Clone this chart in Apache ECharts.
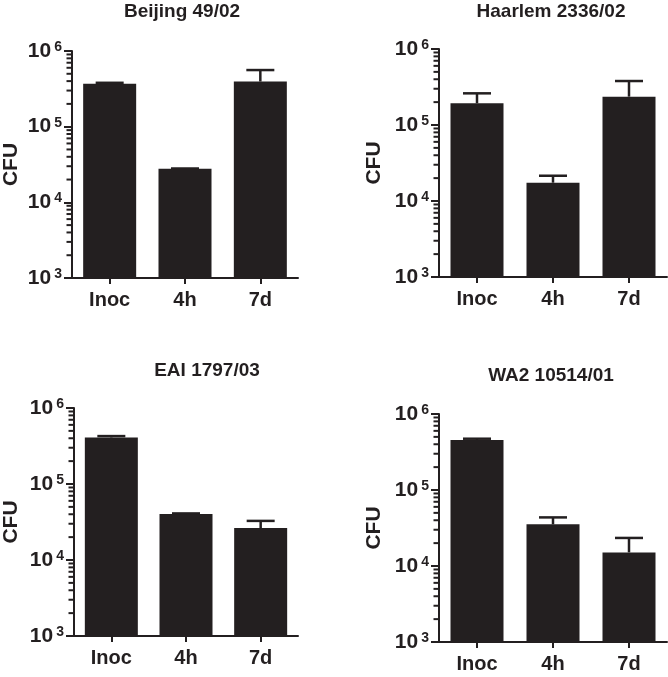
<!DOCTYPE html>
<html><head><meta charset="utf-8">
<script src="https://cdn.jsdelivr.net/npm/echarts@6/dist/echarts.min.js"></script>
<style>html,body{margin:0;padding:0;background:#fff}#c{width:668px;height:677px}</style>
</head><body><div id="c"></div>
<script>
const categories = ['Inoc', '4h', '7d'];
const titles = ['Beijing 49/02', 'Haarlem 2336/02', 'EAI 1797/03', 'WA2 10514/01'];
const yTickExponents = [3, 4, 5, 6];
const yAxisTitle = 'CFU';

const beijingMean = [3.68e5, 2.77e4, 3.95e5];
const beijingUpper = [3.80e5, 2.80e4, 5.6e5];
const haarlemMean = [1.93e5, 1.74e4, 2.36e5];
const haarlemUpper = [2.61e5, 2.15e4, 3.79e5];
const eaiMean = [4.10e5, 4.03e4, 2.63e4];
const eaiUpper = [4.27e5, 4.10e4, 3.27e4];
const wa2Mean = [4.55e5, 3.53e4, 1.51e4];
const wa2Upper = [4.73e5, 4.36e4, 2.34e4];

const means = [beijingMean, haarlemMean, eaiMean, wa2Mean];
const uppers = [beijingUpper, haarlemUpper, eaiUpper, wa2Upper];

const INK = '#231f20';
const FONT = 'Liberation Sans, Arial, sans-serif';

// layout
const grids = [
  { left: 68, top: 51, width: 230, height: 227 },
  { left: 439, top: 49, width: 228, height: 228 },
  { left: 70, top: 408, width: 228, height: 228 },
  { left: 439, top: 414, width: 228, height: 228 }
];
const titlePos = [[182, 12], [551, 12], [207, 371], [551, 376]];
const nameGaps = [50, 54, 52, 54];

// minor tick values (2..9 x 10^n)
const minorVals = [];
for (let e = yTickExponents[0]; e < yTickExponents[yTickExponents.length - 1]; e++) {
  for (let m = 2; m <= 9; m++) minorVals.push(m * Math.pow(10, e));
}

const chart = echarts.init(document.getElementById('c'), null, { renderer: 'canvas' });

const option = {
  animation: false,
  backgroundColor: '#fff',
  textStyle: { fontFamily: FONT },
  grid: grids.map(g => Object.assign({ containLabel: false }, g)),
  xAxis: grids.map((g, i) => ({
    type: 'category', gridIndex: i, data: categories,
    axisLine: { lineStyle: { color: INK, width: 2 } },
    axisTick: { show: true, alignWithLabel: true, length: 6, lineStyle: { color: INK, width: 2 } },
    axisLabel: { color: INK, fontSize: 20, fontWeight: 'bold', margin: 12, fontFamily: FONT },
    splitLine: { show: false }
  })),
  yAxis: grids.map((g, i) => ({
    type: 'log', logBase: 10, gridIndex: i, min: 1e3, max: 1e6,
    name: yAxisTitle, nameLocation: 'middle', nameGap: nameGaps[i], nameRotate: 90,
    nameTextStyle: { color: INK, fontSize: 21, fontWeight: 'bold', fontFamily: FONT },
    axisLine: { show: true, lineStyle: { color: INK, width: 2 } },
    axisTick: { show: true, length: 8, lineStyle: { color: INK, width: 2 } },
    splitLine: { show: false },
    axisLabel: {
      margin: 10,
      formatter: v => '{a|10}{b|' + Math.round(Math.log10(v)) + '}',
      rich: {
        a: { fontSize: 21, fontWeight: 'bold', color: INK, fontFamily: FONT },
        b: { fontSize: 14, fontWeight: 'bold', color: INK, fontFamily: FONT, verticalAlign: 'top', padding: [0, 0, 8, 3] }
      }
    }
  })),
  graphic: titles.map((t, i) => ({
    type: 'text', x: titlePos[i][0], y: titlePos[i][1],
    style: { text: t, fill: INK, font: 'bold 19px ' + FONT, textAlign: 'center', textVerticalAlign: 'middle' }
  })),
  series: []
};

for (let i = 0; i < 4; i++) {
  option.series.push({
    type: 'bar', xAxisIndex: i, yAxisIndex: i, data: means[i], barWidth: 53,
    itemStyle: { color: INK }, z: 2
  });
  option.series.push({
    type: 'custom', xAxisIndex: i, yAxisIndex: i, z: 3,
    data: categories.map((c, k) => [k, means[i][k], uppers[i][k]]),
    encode: { x: 0, y: [1, 2] },
    renderItem: (params, api) => {
      const p1 = api.coord([api.value(0), api.value(1)]);
      const p2 = api.coord([api.value(0), api.value(2)]);
      const hw = 14;
      const st = { stroke: INK, lineWidth: 2.5 };
      return {
        type: 'group', children: [
          { type: 'line', shape: { x1: p1[0], y1: p1[1], x2: p2[0], y2: p2[1] }, style: st },
          { type: 'line', shape: { x1: p2[0] - hw, y1: p2[1], x2: p2[0] + hw, y2: p2[1] }, style: st }
        ]
      };
    }
  });
  option.series.push({
    type: 'custom', xAxisIndex: i, yAxisIndex: i, z: 3, clip: false, silent: true,
    data: minorVals.map(v => [0, v]),
    encode: { x: 0, y: 1 },
    renderItem: (params, api) => {
      const p = api.coord([0, api.value(1)]);
      const x0 = params.coordSys.x;
      return { type: 'line', shape: { x1: x0 - 5.5, y1: p[1], x2: x0, y2: p[1] }, style: { stroke: INK, lineWidth: 2 } };
    }
  });
}

chart.setOption(option);
</script>
</body></html>
